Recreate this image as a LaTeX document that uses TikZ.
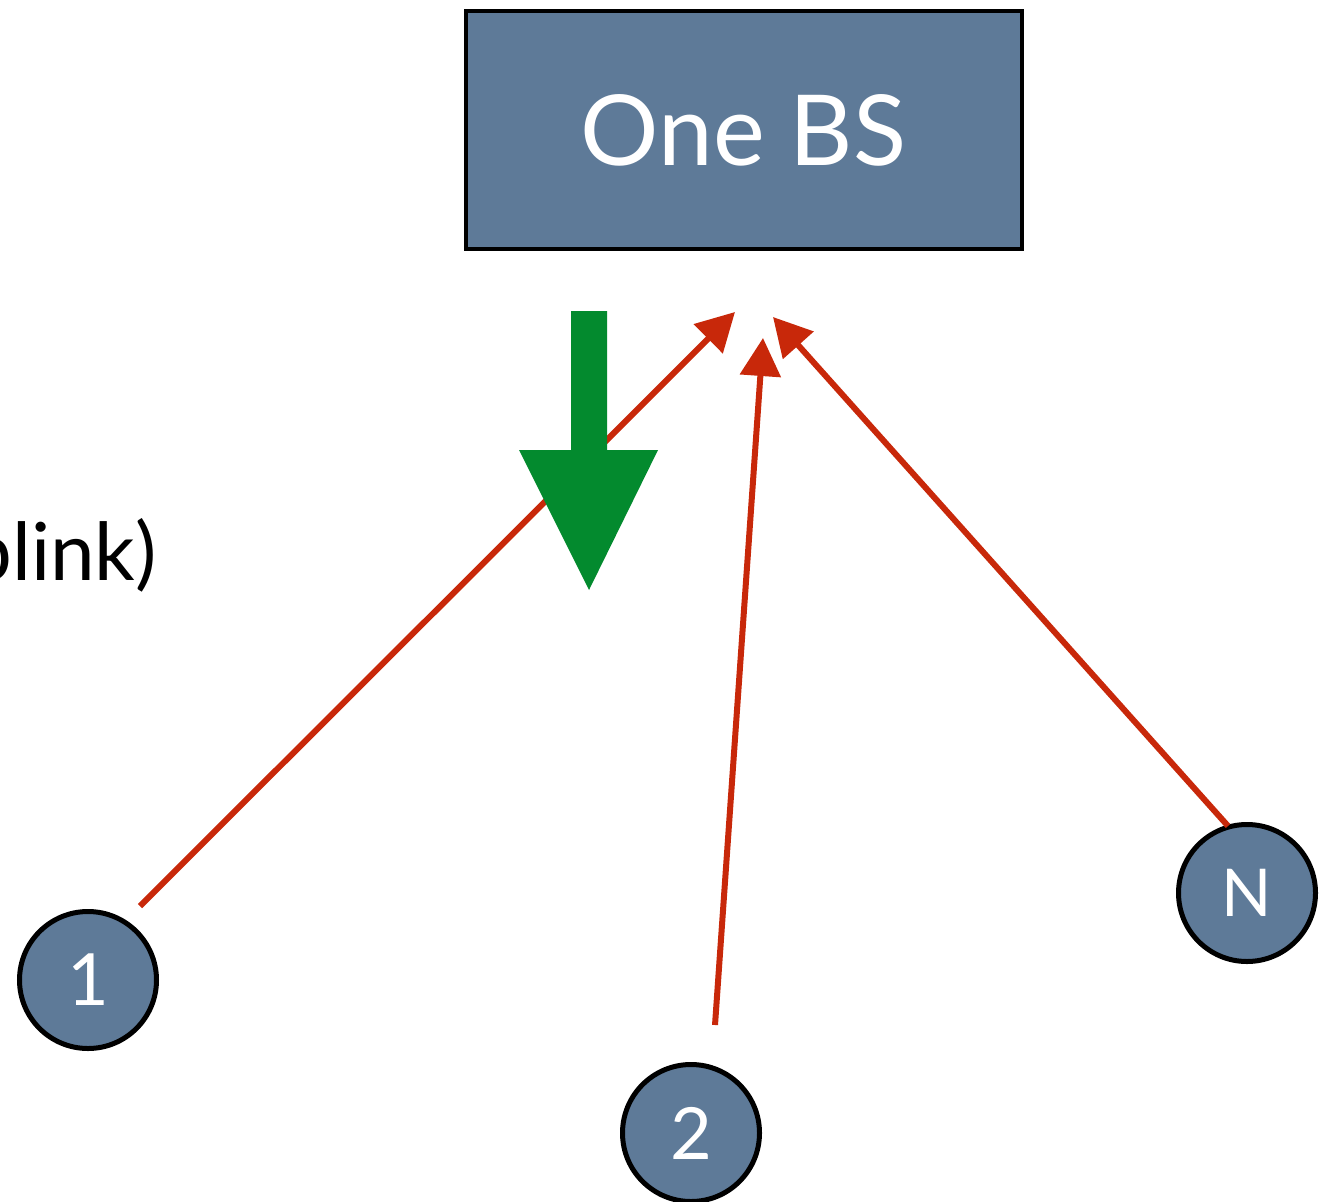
\documentclass[tikz,border=0pt]{standalone}
\usepackage{fontspec}
\setmainfont{Lato}
\usetikzlibrary{arrows.meta}
\definecolor{slate}{RGB}{94,122,152}
\definecolor{linkred}{RGB}{200,40,10}
\definecolor{dlgreen}{RGB}{3,138,46}
\begin{document}
\begin{tikzpicture}[x=1pt,y=-1pt,
  station/.style={circle,draw=black,line width=5pt,fill=slate,minimum size=137pt,inner sep=0pt,text=white,font=\fontsize{66}{70}\selectfont},
  basestation/.style={rectangle,draw=black,line width=4pt,fill=slate,minimum width=556pt,minimum height=237pt,inner sep=0pt,text=white,font=\fontsize{98}{100}\selectfont},
  uplink/.style={draw=linkred,line width=6pt,-{Triangle[length=38pt,width=40pt]}}]
\useasboundingbox (0,0) rectangle (1329,1201);
\fill[white] (0,0) rectangle (1329,1201);

% base station
\node[basestation] (bs) at (743.5,130) {One BS};

% side label, running past the left edge
\node[anchor=base east,inner sep=0pt,font=\fontsize{80}{84}\selectfont] (lbl) at (157,580) {(Uplink)};

% user terminals
\node[station,font=\fontsize{72}{76}\selectfont] (u1) at (88,980) {1};
\node[station,font=\fontsize{72}{76}\selectfont] (u2) at (691,1133) {2};
\node[station] (uN) at (1247,893) {N};

% uplink end points below the base station
\coordinate (s1) at (140,906);
\coordinate (t1) at (735,312);
\coordinate (s2) at (715,1025);
\coordinate (t2) at (763,338);
\coordinate (sN) at (1228,826);
\coordinate (tN) at (773,317);

\draw[uplink] (s1) -- (t1);
\draw[uplink] (s2) -- (t2);
\draw[uplink] (sN) -- (tN);

% downlink arrow
\fill[dlgreen] (571,311) -- (607,311) -- (607,450) -- (658,450) -- (589,590) -- (519,450) -- (571,450) -- cycle;
\end{tikzpicture}
\end{document}
